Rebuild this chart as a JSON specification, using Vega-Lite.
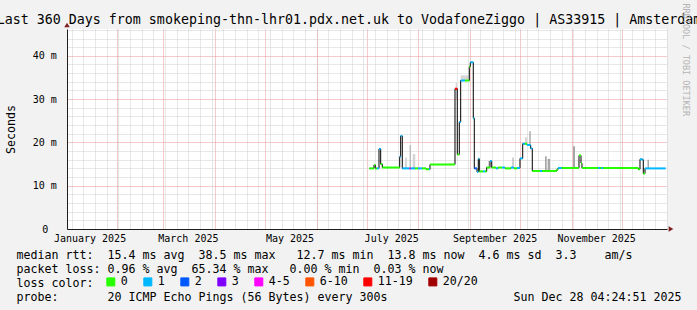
{
  "$schema": "https://vega.github.io/schema/vega-lite/v6.json",
  "width": 600,
  "height": 200,
  "autosize": {"type": "none"},
  "padding": {"left": 67, "top": 29, "right": 30, "bottom": 81},
  "background": "#f2f2f2",
  "config": {
    "font": "DejaVu Sans Mono",
    "view": {"fill": "#ffffff", "stroke": null},
    "axis": {"labelFont": "DejaVu Sans Mono", "titleFont": "DejaVu Sans Mono"},
    "legend": {"labelFont": "DejaVu Sans Mono", "titleFont": "DejaVu Sans Mono"}
  },
  "datasets": {
    "med": [
      {"t":"2025-07-02T13:30","e":"2025-07-05T09:00","m":14.0,"loss":"0"},
      {"t":"2025-07-05T09:00","e":"2025-07-06T04:00","m":14.8,"loss":"0"},
      {"t":"2025-07-06T04:00","e":"2025-07-07T04:20","m":14.0,"loss":"0"},
      {"t":"2025-07-07T04:20","e":"2025-07-08T09:00","m":14.0,"loss":"1"},
      {"t":"2025-07-08T09:00","e":"2025-07-09T09:30","m":18.5,"loss":"1"},
      {"t":"2025-07-09T09:30","e":"2025-07-10T08:40","m":15.0,"loss":"0"},
      {"t":"2025-07-10T08:40","e":"2025-07-20T19:10","m":14.2,"loss":"0"},
      {"t":"2025-07-20T19:10","e":"2025-07-21T09:30","m":16.7,"loss":"1"},
      {"t":"2025-07-21T09:30","e":"2025-07-22T08:40","m":21.5,"loss":"1"},
      {"t":"2025-07-22T08:40","e":"2025-07-26T16:20","m":14.0,"loss":"1"},
      {"t":"2025-07-26T16:20","e":"2025-07-27T11:00","m":14.0,"loss":"4-5"},
      {"t":"2025-07-27T11:00","e":"2025-07-29T23:30","m":14.0,"loss":"1"},
      {"t":"2025-07-29T23:30","e":"2025-07-31T18:40","m":14.0,"loss":"0"},
      {"t":"2025-07-31T18:40","e":"2025-08-03T04:20","m":14.0,"loss":"1"},
      {"t":"2025-08-03T04:20","e":"2025-08-05T14:00","m":14.0,"loss":"0"},
      {"t":"2025-08-05T14:00","e":"2025-08-07T09:00","m":13.8,"loss":"0"},
      {"t":"2025-08-07T09:00","e":"2025-08-07T23:30","m":13.8,"loss":"1"},
      {"t":"2025-08-07T23:30","e":"2025-08-22T23:30","m":14.9,"loss":"0"},
      {"t":"2025-08-22T23:30","e":"2025-08-24T08:40","m":32.4,"loss":"11-19"},
      {"t":"2025-08-24T08:40","e":"2025-08-25T13:30","m":17.2,"loss":"0"},
      {"t":"2025-08-25T13:30","e":"2025-08-26T09:30","m":24.7,"loss":"1"},
      {"t":"2025-08-26T09:30","e":"2025-08-28T23:30","m":34.3,"loss":"1"},
      {"t":"2025-08-28T23:30","e":"2025-08-31T13:30","m":34.3,"loss":"0"},
      {"t":"2025-08-31T13:30","e":"2025-09-01T04:00","m":37.5,"loss":"0"},
      {"t":"2025-09-01T04:00","e":"2025-09-02T23:00","m":38.5,"loss":"1"},
      {"t":"2025-09-02T23:00","e":"2025-09-03T13:30","m":25.6,"loss":"1"},
      {"t":"2025-09-03T13:30","e":"2025-09-05T04:20","m":14.0,"loss":"2"},
      {"t":"2025-09-05T04:20","e":"2025-09-05T23:00","m":13.2,"loss":"1"},
      {"t":"2025-09-05T23:00","e":"2025-09-06T13:30","m":16.2,"loss":"1"},
      {"t":"2025-09-06T13:30","e":"2025-09-08T18:40","m":13.3,"loss":"0"},
      {"t":"2025-09-08T18:40","e":"2025-09-09T23:30","m":13.3,"loss":"1"},
      {"t":"2025-09-09T23:30","e":"2025-09-11T00:00","m":13.3,"loss":"0"},
      {"t":"2025-09-11T00:00","e":"2025-09-12T23:30","m":14.2,"loss":"0"},
      {"t":"2025-09-12T23:30","e":"2025-09-14T00:00","m":15.7,"loss":"1"},
      {"t":"2025-09-14T00:00","e":"2025-09-16T14:00","m":14.2,"loss":"0"},
      {"t":"2025-09-16T14:00","e":"2025-09-17T18:40","m":14.0,"loss":"1"},
      {"t":"2025-09-17T18:40","e":"2025-09-20T04:20","m":14.2,"loss":"0"},
      {"t":"2025-09-20T04:20","e":"2025-09-21T23:30","m":14.2,"loss":"1"},
      {"t":"2025-09-21T23:30","e":"2025-09-25T14:00","m":14.0,"loss":"0"},
      {"t":"2025-09-25T14:00","e":"2025-09-27T09:00","m":14.2,"loss":"1"},
      {"t":"2025-09-27T09:00","e":"2025-09-29T04:20","m":14.0,"loss":"0"},
      {"t":"2025-09-29T04:20","e":"2025-09-30T23:30","m":14.1,"loss":"1"},
      {"t":"2025-09-30T23:30","e":"2025-10-02T14:30","m":16.3,"loss":"1"},
      {"t":"2025-10-02T14:30","e":"2025-10-03T23:30","m":19.7,"loss":"1"},
      {"t":"2025-10-03T23:30","e":"2025-10-05T04:20","m":19.7,"loss":"0"},
      {"t":"2025-10-05T04:20","e":"2025-10-07T09:30","m":19.4,"loss":"1"},
      {"t":"2025-10-07T09:30","e":"2025-10-08T08:40","m":18.6,"loss":"1"},
      {"t":"2025-10-08T08:40","e":"2025-10-12T23:30","m":13.4,"loss":"0"},
      {"t":"2025-10-12T23:30","e":"2025-10-14T04:20","m":13.4,"loss":"1"},
      {"t":"2025-10-14T04:20","e":"2025-10-23T00:00","m":13.4,"loss":"0"},
      {"t":"2025-10-23T00:00","e":"2025-10-23T18:40","m":13.7,"loss":"0"},
      {"t":"2025-10-23T18:40","e":"2025-10-26T00:00","m":14.1,"loss":"1"},
      {"t":"2025-10-26T00:00","e":"2025-11-05T09:00","m":14.1,"loss":"0"},
      {"t":"2025-11-05T09:00","e":"2025-11-06T14:00","m":17.0,"loss":"0"},
      {"t":"2025-11-06T14:00","e":"2025-11-07T04:20","m":15.2,"loss":"0"},
      {"t":"2025-11-07T04:20","e":"2025-11-16T18:40","m":14.1,"loss":"0"},
      {"t":"2025-11-16T18:40","e":"2025-11-17T23:30","m":14.1,"loss":"1"},
      {"t":"2025-11-17T23:30","e":"2025-11-18T21:00","m":14.1,"loss":"0"},
      {"t":"2025-11-18T21:00","e":"2025-11-19T18:40","m":14.1,"loss":"1"},
      {"t":"2025-11-19T18:40","e":"2025-12-10T23:00","m":14.1,"loss":"0"},
      {"t":"2025-12-10T23:00","e":"2025-12-11T23:30","m":13.8,"loss":"0"},
      {"t":"2025-12-11T23:30","e":"2025-12-13T11:30","m":16.1,"loss":"1"},
      {"t":"2025-12-13T11:30","e":"2025-12-13T23:00","m":16.0,"loss":"1"},
      {"t":"2025-12-13T23:00","e":"2025-12-14T23:30","m":12.8,"loss":"0"},
      {"t":"2025-12-14T23:30","e":"2025-12-27T09:30","m":14.0,"loss":"1"}
    ],
    "smoke": [
      {"t":"2025-07-23T23:30","e":"2025-07-25T04:20","lo":14.0,"hi":16.5,"shade":"light"},
      {"t":"2025-07-26T19:10","e":"2025-07-27T09:30","lo":14.0,"hi":19.4,"shade":"dark"},
      {"t":"2025-07-28T14:20","e":"2025-07-30T03:50","lo":14.0,"hi":17.3,"shade":"light"},
      {"t":"2025-08-23T09:30","e":"2025-08-24T04:20","lo":30.0,"hi":33.7,"shade":"light"},
      {"t":"2025-08-26T09:30","e":"2025-08-31T07:00","lo":34.3,"hi":35.5,"shade":"light"},
      {"t":"2025-09-11T18:40","e":"2025-09-12T16:20","lo":14.2,"hi":15.7,"shade":"light"},
      {"t":"2025-09-26T11:30","e":"2025-09-27T02:00","lo":14.2,"hi":16.5,"shade":"dark"},
      {"t":"2025-10-03T23:30","e":"2025-10-05T08:40","lo":19.7,"hi":21.2,"shade":"light"},
      {"t":"2025-10-06T13:30","e":"2025-10-07T09:30","lo":19.5,"hi":22.6,"shade":"dark"},
      {"t":"2025-10-15T23:30","e":"2025-10-17T00:00","lo":13.4,"hi":16.8,"shade":"dark"},
      {"t":"2025-10-17T14:20","e":"2025-10-18T23:30","lo":13.4,"hi":16.2,"shade":"dark"},
      {"t":"2025-11-01T18:40","e":"2025-11-02T23:30","lo":14.1,"hi":19.1,"shade":"dark"},
      {"t":"2025-12-16T11:30","e":"2025-12-17T09:00","lo":14.0,"hi":16.0,"shade":"dark"}
    ]
  },
  "resolve": {"axis": {"x": "independent", "y": "independent"}},
  "layer": [
    {
      "data": {"name": "smoke"},
      "mark": {"type": "rect"},
      "encoding": {
        "x": {"field": "t", "type": "temporal",
          "scale": {"domain": [{"year":2025,"month":1,"date":2,"hours":4,"minutes":24,"seconds":51},{"year":2025,"month":12,"date":28,"hours":4,"minutes":24,"seconds":51}], "nice": false},
          "axis": {"orient": "bottom", "grid": true, "gridColor": "#cfcfcf", "gridDash": [1,1], "gridWidth": 1, "tickCount": {"interval": "week", "step": 1}, "labels": false, "ticks": false, "domain": false, "title": null}},
        "x2": {"field": "e"},
        "y": {"field": "lo", "type": "quantitative",
          "scale": {"domain": [0, 46.2], "nice": false},
          "axis": {"orient": "left", "grid": true, "gridColor": "#cfcfcf", "gridDash": [1,1], "gridWidth": 1, "values": [2,4,6,8,12,14,16,18,22,24,26,28,32,34,36,38,42,44,46], "labels": false, "ticks": false, "domain": false, "title": null}},
        "y2": {"field": "hi"},
        "fill": {"field": "shade", "type": "nominal", "scale": {"domain": ["light","dark"], "range": ["#d6d6d6","#a6a6a6"]}, "legend": null}
      }
    },
    {
      "data": {"name": "med"},
      "mark": {"type": "line", "interpolate": "step-after", "color": "#000000", "strokeWidth": 1},
      "encoding": {
        "x": {"field": "t", "type": "temporal",
          "scale": {"domain": [{"year":2025,"month":1,"date":2,"hours":4,"minutes":24,"seconds":51},{"year":2025,"month":12,"date":28,"hours":4,"minutes":24,"seconds":51}], "nice": false},
          "axis": {"orient": "bottom", "grid": true, "gridColor": "#eb9595", "gridDash": [1,1], "gridWidth": 1, "tickCount": {"interval": "month", "step": 1}, "labels": false, "ticks": false, "domain": false, "title": null}},
        "y": {"field": "m", "type": "quantitative",
          "scale": {"domain": [0, 46.2], "nice": false},
          "axis": {"orient": "left", "grid": true, "gridColor": "#eb9595", "gridDash": [1,1], "gridWidth": 1, "values": [0,10,20,30,40],
            "labelExpr": "datum.value == 0 ? '' : datum.value + ' m'",
            "labelFontSize": 10, "labelColor": "#000000", "labelPadding": 10.7, "labelBaseline": "middle", "tickSize": 0, "ticks": false, "domain": false,
            "title": "Seconds", "titleX": -56, "titleY": 100, "titleAngle": -90, "titleAlign": "center", "titleBaseline": "middle", "titleFontSize": 11.63, "titleFontWeight": "normal", "titleColor": "#000000"}}
      }
    },
    {
      "data": {"name": "med"},
      "mark": {"type": "rule", "strokeWidth": 2, "strokeCap": "butt"},
      "encoding": {
        "x": {"field": "t", "type": "temporal",
          "scale": {"domain": [{"year":2025,"month":1,"date":2,"hours":4,"minutes":24,"seconds":51},{"year":2025,"month":12,"date":28,"hours":4,"minutes":24,"seconds":51}], "nice": false},
          "axis": {"orient": "bottom", "grid": false, "ticks": false, "tickSize": 0, "domain": false,
            "values": [{"year":2025,"month":1,"date":15,"hours":17},{"year":2025,"month":3,"date":15,"hours":17},{"year":2025,"month":5,"date":15,"hours":17},{"year":2025,"month":7,"date":15,"hours":17},{"year":2025,"month":9,"date":15,"hours":17},{"year":2025,"month":11,"date":15,"hours":17}],
            "format": "%B %Y", "labelFontSize": 10, "labelColor": "#000000", "labelPadding": 9, "labelBaseline": "middle", "labelFlush": false, "labelOverlap": false, "labelBound": false,
            "title": [
              "median rtt:\u00a0\u00a015.4 ms avg\u00a0\u00a038.5 ms max\u00a0\u00a0\u00a012.7 ms min\u00a0\u00a013.8 ms now\u00a0\u00a04.6 ms sd\u00a0\u00a03.3\u00a0\u00a0\u00a0\u00a0am/s",
              "packet loss:\u00a00.96 % avg\u00a0\u00a065.34 % max\u00a0\u00a0\u00a00.00 % min\u00a0\u00a00.03 % now",
              "loss color:",
              "probe:\u00a0\u00a0\u00a0\u00a0\u00a0\u00a0\u00a020 ICMP Echo Pings (56 Bytes) every 300s\u00a0\u00a0\u00a0\u00a0\u00a0\u00a0\u00a0\u00a0\u00a0\u00a0\u00a0\u00a0\u00a0\u00a0\u00a0\u00a0\u00a0\u00a0Sun Dec 28 04:24:51 2025"
            ],
            "titleX": -51, "titleY": 29, "titleAlign": "left", "titleAnchor": "start", "titleBaseline": "alphabetic", "titleFontSize": 11.63, "titleFontWeight": "normal", "titleColor": "#000000", "titleLineHeight": 14}},
        "x2": {"field": "e"},
        "y": {"field": "m", "type": "quantitative",
          "scale": {"domain": [0, 46.2], "nice": false},
          "axis": {"orient": "right", "labels": false, "ticks": false, "domain": false, "grid": false,
            "title": "RRDTOOL / TOBI OETIKER", "titleAngle": 90, "titleX": 18, "titleY": -26, "titleAlign": "left", "titleBaseline": "middle", "titleFontSize": 8.5, "titleFontWeight": "normal", "titleColor": "#b4b4b4"}},
        "color": {"field": "loss", "type": "nominal",
          "scale": {"domain": ["0","1","2","3","4-5","6-10","11-19","20/20"], "range": ["#26ff00","#00b8ff","#0059ff","#7e00ff","#ff00ff","#ff5500","#ff0000","#a10000"]},
          "legend": {"orient": "none", "legendX": 38, "legendY": 247, "direction": "horizontal", "columns": 8, "title": null,
            "symbolType": "square", "symbolSize": 64, "symbolStrokeWidth": 1, "symbolStrokeColor": "#000000",
            "labelFontSize": 11.63, "labelColor": "#000000", "labelOffset": 4, "columnPadding": 13, "padding": 0,
            "encode": {"symbols": {"update": {"fill": {"scale": "color", "field": "value"}, "stroke": {"value": "#000000"}, "fillOpacity": {"value": 1}, "strokeOpacity": {"value": 1}, "opacity": {"value": 1}}}}}}
      }
    },
    {
      "data": {"values": [{}]},
      "mark": {"type": "point", "shape": "triangle-right", "filled": true, "size": 30, "color": "#801f1f", "opacity": 1, "xOffset": 4},
      "encoding": {
        "x": {"datum": {"year":2025,"month":12,"date":28,"hours":4,"minutes":24,"seconds":51}, "type": "temporal",
          "scale": {"domain": [{"year":2025,"month":1,"date":2,"hours":4,"minutes":24,"seconds":51},{"year":2025,"month":12,"date":28,"hours":4,"minutes":24,"seconds":51}], "nice": false},
          "axis": {"orient": "top", "labels": false, "ticks": false, "domain": false, "grid": false,
            "title": "Last 360 Days from smokeping-thn-lhr01.pdx.net.uk to VodafoneZiggo | AS33915 | Amsterdam",
            "titleX": 281.5, "titleY": -6, "titleAlign": "center", "titleBaseline": "alphabetic", "titleFontSize": 13.3, "titleFontWeight": "normal", "titleColor": "#000000"}},
        "y": {"datum": 0, "type": "quantitative", "scale": {"domain": [0, 46.2], "nice": false}, "axis": null}
      }
    },
    {
      "data": {"values": [{}]},
      "mark": {"type": "point", "shape": "triangle-up", "filled": true, "size": 30, "color": "#801f1f", "opacity": 1, "yOffset": -4},
      "encoding": {
        "x": {"datum": {"year":2025,"month":1,"date":2,"hours":4,"minutes":24,"seconds":51}, "type": "temporal",
          "scale": {"domain": [{"year":2025,"month":1,"date":2,"hours":4,"minutes":24,"seconds":51},{"year":2025,"month":12,"date":28,"hours":4,"minutes":24,"seconds":51}], "nice": false},
          "axis": {"orient": "bottom", "labels": false, "ticks": false, "grid": false, "title": null, "domain": true, "domainColor": "#1f1f1f", "domainWidth": 1, "zindex": 1}},
        "y": {"datum": 46.2, "type": "quantitative", "scale": {"domain": [0, 46.2], "nice": false},
          "axis": {"orient": "left", "values": [0], "labels": true, "labelExpr": "'0'", "labelFontSize": 10, "labelColor": "#000000", "labelPadding": 19.3, "labelBaseline": "middle", "tickSize": 0, "ticks": false, "grid": false, "title": null, "domain": true, "domainColor": "#1f1f1f", "domainWidth": 1, "zindex": 1}}
      }
    }
  ]
}
